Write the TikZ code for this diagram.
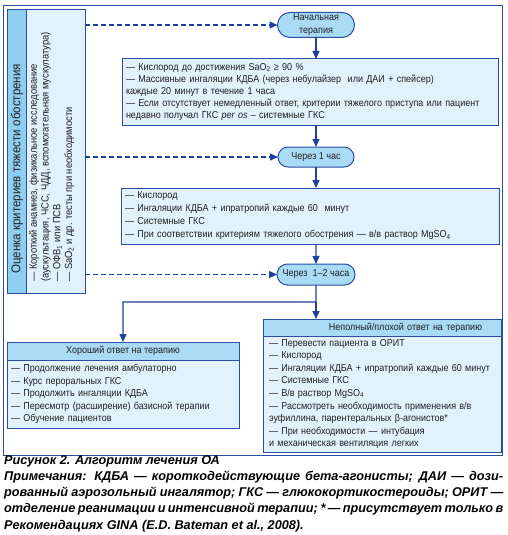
\documentclass[tikz,border=0pt]{standalone}
\usepackage{fontspec}
\setmainfont[FakeStretch=0.9]{Liberation Sans}
\newfontfamily\capfont{Liberation Sans}
\usepackage{tikz}
\usetikzlibrary{arrows.meta, calc, positioning, shapes}

\definecolor{lineblue}{HTML}{2B4DA5}
\definecolor{arrowblue}{HTML}{1E3F9C}
\definecolor{paleblue}{HTML}{E1F2FC}
\definecolor{skyblue}{HTML}{A9DBF5}
\definecolor{headblue}{HTML}{8ECFF1}
\definecolor{textgray}{HTML}{231F20}

\begin{document}
\begin{tikzpicture}[x=1pt, y=-1pt,% styles used in image code
         > = {Triangle[width=7pt, length=8pt]},
  box/.style = {draw=lineblue, line width=1pt, fill=paleblue, text=textgray,
                inner xsep=4pt, inner ysep=0pt, outer sep=0pt,
                align=left, anchor=north west},
 head/.style = {box, fill=skyblue, align=center,
                font=\fontsize{10}{11}\selectfont},
 oval/.style = {draw=lineblue, line width=1pt, fill=skyblue, text=textgray,
                rounded rectangle, inner sep=1pt, outer sep=0pt, align=center,
                font=\fontsize{10}{13}\selectfont},
 flow/.style = {->, draw=arrowblue, line width=1.4pt},
 link/.style = {->, draw=arrowblue, line width=1.1pt,
                dash pattern=on 5pt off 3pt},
frame/.style = {draw=lineblue, line width=1pt}
                        ]
	\useasboundingbox (0,0) rectangle (508,535);
	\draw[frame] (3,6) rectangle (502,455);

	% left panel
	\node[box, fill=headblue, minimum width=19, minimum height=283] (crit head) at (7,10) {};
	\node[box, minimum width=59, minimum height=283] (crit body) at (26,10) {};
	\node[rotate=90, anchor=west, inner sep=0, text=textgray,
	      font=\fontsize{12.8}{13}\selectfont] (crit title) at (17,274)
	      {Оценка критериев тяжести обострения};
	\node[rotate=90, anchor=north west, inner sep=0, align=left, text=textgray,
	      font=\fontsize{10.4}{11.7}\selectfont] (crit list) at (29,282)
	      {— Короткий анамнез, физикальное исследование\\
	       (аускультация, ЧСС, ЧДД, вспомогательная мускулатура)\\
	       — ОФВ\textsubscript{1} или ПСВ\\
	       — SaO\textsubscript{2} и др. тесты при необходимости};

	% stages
	\node[oval, minimum width=79, minimum height=25] (start) at (316,25) {Начальная\\терапия};
	\node[oval, minimum width=78, minimum height=20] (hour) at (316,157) {Через 1 час};
	\node[oval, minimum width=80, minimum height=21] (later) at (316,274.5) {Через\ \ 1–2 часа};

	\node[box, text width=368, minimum height=66, font=\fontsize{10}{12}\selectfont] (first aid) at (122,59)
	     {— Кислород до достижения SaO\textsubscript{2} ≥ 90 \%\\
	      — Массивные ингаляции КДБА (через небулайзер\ \ или ДАИ + спейсер)\\
	      каждые 20 минут в течение 1 часа\\
	      — Если отсутствует немедленный ответ, критерии тяжелого приступа или пациент\\
	      недавно получал ГКС \textit{per os} – системные ГКС};
	\node[box, text width=370, minimum height=56, font=\fontsize{10}{13}\selectfont] (review) at (121,188)
	     {— Кислород\\
	      — Ингаляции КДБА + ипратропий каждые 60\ \ минут\\
	      — Системные ГКС\\
	      — При соответствии критериям тяжелого обострения — в/в раствор MgSO\textsubscript{4}};

	% outcomes
	\node[head, minimum width=232, minimum height=18] (good head) at (7,342) {Хороший ответ на терапию};
	\node[box, text width=224, minimum height=68, font=\fontsize{10}{12.5}\selectfont] (good) at (good head.south west)
	     {— Продолжение лечения амбулаторно\\
	      — Курс пероральных ГКС\\
	      — Продолжить ингаляции КДБА\\
	      — Пересмотр (расширение) базисной терапии\\
	      — Обучение пациентов};
	\node[head, inner xsep=19pt, text width=200, align=right, minimum height=17] (bad head) at (263,319)
	     {Неполный/плохой ответ на терапию};
	\node[box, inner xsep=6pt, text width=226, minimum height=116, font=\fontsize{10}{12.6}\selectfont] (bad) at (bad head.south west)
	     {— Перевести пациента в ОРИТ\\
	      — Кислород\\
	      — Ингаляции КДБА + ипратропий каждые 60 минут\\
	      — Системные ГКС\\
	      — В/в раствор MgSO\textsubscript{4}\\
	      — Рассмотреть необходимость применения в/в\\
	      эуфиллина, парентеральных β-агонистов*\\
	      — При необходимости — интубация\\
	      и механическая вентиляция легких};

	% arrows
	\draw[link] (crit body.east |- start) -- (start);
	\draw[link] (crit body.east |- hour) -- (hour);
	\draw[link] (crit body.east |- later) -- (later);
	\draw[flow] (start) -- (start |- first aid.north);
	\draw[flow] (first aid.south -| hour) -- (hour);
	\draw[flow] (hour) -- (hour |- review.north);
	\draw[flow] (review.south -| later) -- (later);
	\coordinate (split) at ($(later.south)+(0,17)$);
	\draw[flow] (later) -- (split) -| (good head.north);
	\draw[flow] (split) -- (split |- bad head.north);

	% caption
	\node[anchor=north west, inner sep=0, text width=499, align=justify,
	      font=\capfont\bfseries\itshape\fontsize{12.7}{16.3}\selectfont] (caption) at (4,455)
	     {Рисунок 2. Алгоритм лечения ОА\\
	      Примечания: КДБА — короткодействующие бета-агонисты; ДАИ — дози-\linebreak
	      рованный аэрозольный ингалятор; ГКС — глюкокортикостероиды; ОРИТ —\linebreak
	      отделение реанимации и интенсивной терапии; * — присутствует только в\linebreak
	      Рекомендациях GINA (E.D. Bateman et al., 2008).};
\end{tikzpicture}
\end{document}
